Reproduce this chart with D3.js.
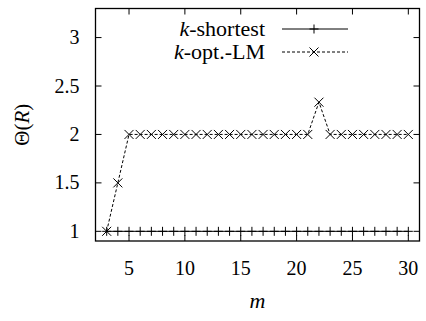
<!DOCTYPE html>
<html>
<head>
<meta charset="utf-8">
<script src="https://cdn.jsdelivr.net/npm/d3@7"></script>
<style>
  body { margin: 0; background: #fff; font-family: "Liberation Serif", "Times New Roman", Tinos; }
  svg text { font-family: "Liberation Serif", "Times New Roman", Tinos; }
</style>
</head>
<body>
<div id="chart"></div>
<script>
// data
const mValues = [3, 4, 5, 6, 7, 8, 9, 10, 11, 12, 13, 14, 15, 16, 17, 18, 19, 20, 21, 22, 23, 24, 25, 26, 27, 28, 29, 30];
const kShortest = [1, 1, 1, 1, 1, 1, 1, 1, 1, 1, 1, 1, 1, 1, 1, 1, 1, 1, 1, 1, 1, 1, 1, 1, 1, 1, 1, 1];
const kOptLM = [1, 1.5, 2, 2, 2, 2, 2, 2, 2, 2, 2, 2, 2, 2, 2, 2, 2, 2, 2, 2.333, 2, 2, 2, 2, 2, 2, 2, 2];
const xTicks = [5, 10, 15, 20, 25, 30];
const yTicks = [1, 1.5, 2, 2.5, 3];

const width = 426, height = 321;
const margin = { left: 95.5, right: 6.5, top: 8.5, bottom: 80 };
const plotW = width - margin.left - margin.right;
const plotH = height - margin.top - margin.bottom;
const serif = "Liberation Serif, Times New Roman, Tinos";

const svg = d3.select("#chart").append("svg")
    .attr("width", width)
    .attr("height", height)
    .style("font-family", serif);

const g = svg.append("g")
    .attr("transform", `translate(${margin.left}, ${margin.top})`);

// scales
const x = d3.scaleLinear().domain([2, 31]).range([0, plotW]);
const y = d3.scaleLinear().domain([0.9, 3.3]).range([plotH, 0]);

const tickLen = 6;

// ticks (inward, mirrored like gnuplot)
g.selectAll(".xtick-b").data(xTicks).enter().append("line")
    .attr("x1", d => x(d)).attr("x2", d => x(d))
    .attr("y1", plotH).attr("y2", plotH - tickLen)
    .attr("stroke", "#000").attr("stroke-width", 1);
g.selectAll(".xtick-t").data(xTicks).enter().append("line")
    .attr("x1", d => x(d)).attr("x2", d => x(d))
    .attr("y1", 0).attr("y2", tickLen)
    .attr("stroke", "#000").attr("stroke-width", 1);
g.selectAll(".ytick-l").data(yTicks).enter().append("line")
    .attr("x1", 0).attr("x2", tickLen)
    .attr("y1", d => y(d)).attr("y2", d => y(d))
    .attr("stroke", "#000").attr("stroke-width", 1);
g.selectAll(".ytick-r").data(yTicks).enter().append("line")
    .attr("x1", plotW).attr("x2", plotW - tickLen)
    .attr("y1", d => y(d)).attr("y2", d => y(d))
    .attr("stroke", "#000").attr("stroke-width", 1);

// tick labels
g.selectAll(".xlab").data(xTicks).enter().append("text")
    .attr("x", d => x(d))
    .attr("y", plotH + 34)
    .attr("text-anchor", "middle")
    .style("font-family", serif)
    .attr("font-size", 20)
    .text(d => d);
g.selectAll(".ylab").data(yTicks).enter().append("text")
    .attr("x", -16)
    .attr("y", d => y(d) + 6.5)
    .attr("text-anchor", "end")
    .style("font-family", serif)
    .attr("font-size", 20)
    .text(d => d);

// border
g.append("rect")
    .attr("width", plotW).attr("height", plotH)
    .attr("fill", "none").attr("stroke", "#000").attr("stroke-width", 1.3);

// axis titles
const ylab = svg.append("text")
    .attr("transform", `translate(29, ${margin.top + plotH / 2}) rotate(-90)`)
    .attr("text-anchor", "middle")
    .style("font-family", serif)
    .attr("font-size", 21);
ylab.append("tspan").text("Θ(");
ylab.append("tspan").attr("font-style", "italic").text("R");
ylab.append("tspan").text(")");

svg.append("text")
    .attr("x", margin.left + plotW / 2)
    .attr("y", 308)
    .attr("text-anchor", "middle")
    .style("font-family", serif)
    .attr("font-size", 22)
    .attr("font-style", "italic")
    .text("m");

const line = d3.line()
    .x((d, i) => x(mValues[i]))
    .y(d => y(d));

// k-shortest series
g.append("path")
    .datum(kShortest)
    .attr("d", line)
    .attr("fill", "none")
    .attr("stroke", "#000")
    .attr("stroke-width", 1);

// k-opt.-LM series
g.append("path")
    .datum(kOptLM)
    .attr("d", line)
    .attr("fill", "none")
    .attr("stroke", "#000")
    .attr("stroke-width", 1)
    .attr("stroke-dasharray", "3,2");

const ms = 4.5;
function plusPath(cx, cy) {
    return `M${cx - ms},${cy}H${cx + ms}M${cx},${cy - ms}V${cy + ms}`;
}
function crossPath(cx, cy) {
    return `M${cx - ms},${cy - ms}L${cx + ms},${cy + ms}M${cx - ms},${cy + ms}L${cx + ms},${cy - ms}`;
}

g.selectAll(".plus").data(kShortest).enter().append("path")
    .attr("d", (d, i) => plusPath(x(mValues[i]), y(d)))
    .attr("stroke", "#000").attr("stroke-width", 1).attr("fill", "none");

g.selectAll(".cross").data(kOptLM).enter().append("path")
    .attr("d", (d, i) => crossPath(x(mValues[i]), y(d)))
    .attr("stroke", "#000").attr("stroke-width", 1).attr("fill", "none");

// legend
const legend = svg.append("g");
const legendItems = [
    { name: "-shortest", y: 29, dash: null, marker: plusPath },
    { name: "-opt.-LM", y: 52, dash: "3,2", marker: crossPath }
];
legendItems.forEach(item => {
    const t = legend.append("text")
        .attr("x", 265)
        .attr("y", item.y + 7)
        .attr("text-anchor", "end")
        .style("font-family", serif)
        .attr("font-size", 22);
    t.append("tspan").attr("font-style", "italic").text("k");
    t.append("tspan").text(item.name);
    legend.append("line")
        .attr("x1", 282).attr("x2", 348)
        .attr("y1", item.y).attr("y2", item.y)
        .attr("stroke", "#000").attr("stroke-width", 1)
        .attr("stroke-dasharray", item.dash);
    legend.append("path")
        .attr("d", item.marker(314, item.y))
        .attr("stroke", "#000").attr("stroke-width", 1).attr("fill", "none");
});
</script>
</body>
</html>
